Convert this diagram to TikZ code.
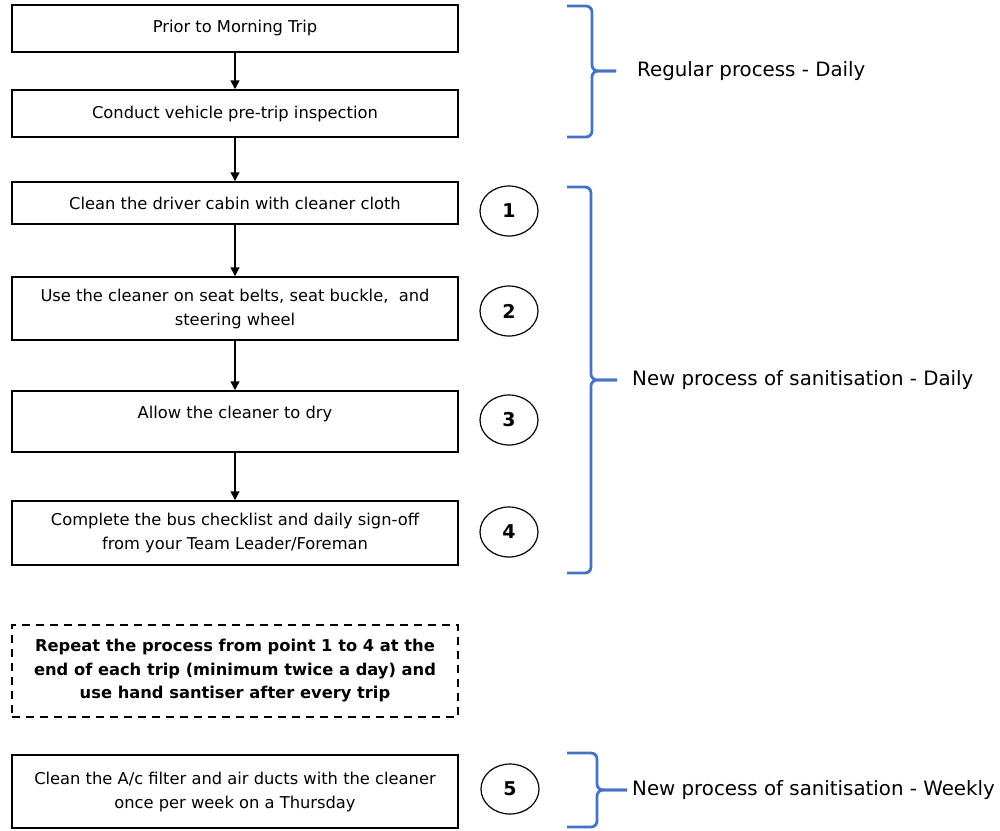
\documentclass[tikz,border=0pt]{standalone}
\usepackage{fontspec}
\setmainfont{DejaVu Sans}
\usetikzlibrary{arrows.meta,shapes.geometric}
\definecolor{braceblue}{RGB}{68,114,196}

\begin{document}
\begin{tikzpicture}[x=1pt,y=-1pt,
		box/.style={draw=black, line width=1.5pt, minimum width=446, align=center, inner sep=0pt, font=\fontsize{16.3}{24}\selectfont},
		num/.style={draw=black, line width=1.2pt, ellipse, minimum width=58, minimum height=50, inner sep=0pt, font=\fontsize{19}{20}\selectfont\bfseries},
		flow/.style={line width=1.5pt, -{Triangle[width=9pt,length=9pt]}},
		brace/.style={braceblue, line width=2.8pt, rounded corners=6pt},
		side/.style={anchor=west, inner sep=0pt, font=\fontsize{19.8}{24}\selectfont}]
		\useasboundingbox (0,0) rectangle (1000,830);

		\node[box, minimum height=47] (prior) at (235,28.5) {Prior to Morning Trip};
		\node[box, minimum height=47] (inspect) at (235,113.5) {Conduct vehicle pre-trip inspection};
		\node[box, minimum height=42] (cabin) at (235,203) {Clean the driver cabin with cleaner cloth};
		\node[box, minimum height=63] (belts) at (235,308.5) {Use the cleaner on seat belts, seat buckle,~ and\\steering wheel};
		\node[box, minimum height=61, text depth=19pt] (dry) at (235,421.5) {Allow the cleaner to dry};
		\node[box, minimum height=64] (checklist) at (235,533) {Complete the bus checklist and daily sign-off\\from your Team Leader/Foreman};
		\node[box, minimum height=92, dash pattern=on 8pt off 6pt, font=\fontsize{16.3}{23.5}\selectfont\bfseries] (repeat) at (235,671) {Repeat the process from point 1 to 4 at the\\end of each trip (minimum twice a day) and\\use hand santiser after every trip};
		\node[box, minimum height=73] (filter) at (235,791.5) {Clean the A/c filter and air ducts with the cleaner\\once per week on a Thursday};

		\draw[flow] (prior) -- (inspect);
		\draw[flow] (inspect) -- (cabin);
		\draw[flow] (cabin) -- (belts);
		\draw[flow] (belts) -- (dry);
		\draw[flow] (dry) -- (checklist);

		\node[num] (n1) at (509,211) {1};
		\node[num] (n2) at (509,311) {2};
		\node[num] (n3) at (509,420) {3};
		\node[num] (n4) at (509,532) {4};
		\node[num] (n5) at (510,789) {5};

		% braces
		\draw[brace] (567,6) -- (592,6) -- (592,71) -- (616,71);
		\draw[brace] (567,137) -- (592,137) -- (592,71) -- (616,71);
		\draw[brace] (567,187) -- (591,187) -- (591,380) -- (617,380);
		\draw[brace] (567,573) -- (591,573) -- (591,380) -- (617,380);
		\draw[brace] (567,753) -- (597,753) -- (597,790) -- (627,790);
		\draw[brace] (567,827) -- (597,827) -- (597,790) -- (627,790);

		\node[side] (regular) at (637,71) {Regular process - Daily};
		\node[side] (daily) at (632,380) {New process of sanitisation - Daily};
		\node[side] (weekly) at (632,790) {New process of sanitisation - Weekly};
	\end{tikzpicture}
\end{document}
